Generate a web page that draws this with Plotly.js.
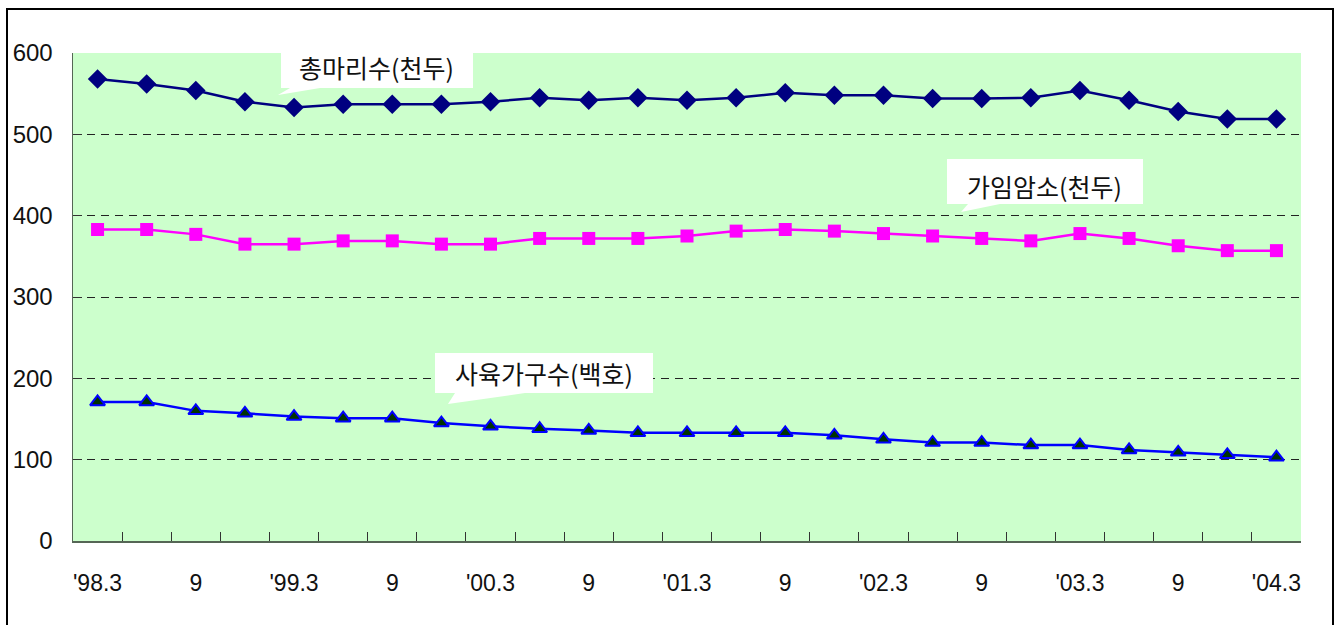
<!DOCTYPE html>
<html>
<head>
<meta charset="utf-8">
<script src="https://cdn.plot.ly/plotly-3.0.1.min.js"></script>
<style>
  html, body { margin: 0; padding: 0; background: #ffffff; }
  #wrap { position: relative; width: 1341px; height: 625px; }
  #chart { width: 1341px; height: 625px; }
  #frame { position: absolute; left: 6px; top: 8px; width: 1328px; height: 640px;
           border: 2px solid #000; pointer-events: none; box-sizing: border-box; }
</style>
</head>
<body>
<div id="wrap">
  <div id="chart"></div>
  <div id="frame"></div>
</div>
<script>
// Quarterly periods, '98.3 .. '04.3
const periods = ["98.3","98.6","98.9","98.12","99.3","99.6","99.9","99.12",
                 "00.3","00.6","00.9","00.12","01.3","01.6","01.9","01.12",
                 "02.3","02.6","02.9","02.12","03.3","03.6","03.9","03.12","04.3"];
const tickLabels = ["'98.3","","9","","'99.3","","9","","'00.3","","9","",
                    "'01.3","","9","","'02.3","","9","","'03.3","","9","","'04.3"];
const yTicks = [0, 100, 200, 300, 400, 500, 600];
const gridTicks = [100, 200, 300, 400, 500];

// 총마리수(천두)
const totalHead = [568, 562, 554, 540, 533, 537, 537, 537, 540, 545, 542, 545, 542,
                   545, 551, 548, 548, 544, 544, 545, 554, 542, 528, 519, 519];
// 가임암소(천두)
const breedingCows = [383, 383, 377, 365, 365, 369, 369, 365, 365, 372, 372, 372, 375,
                      381, 383, 381, 378, 375, 372, 369, 378, 372, 363, 357, 357];
// 사육가구수(백호)
const farms = [171, 171, 160, 157, 153, 151, 151, 145, 141, 138, 136, 133, 133,
               133, 133, 130, 125, 121, 121, 118, 118, 112, 109, 106, 103];

const labelTotal = "총마리수(천두)";
const labelCows = "가임암소(천두)";
const labelFarms = "사육가구수(백호)";

// layout geometry (pixels) -> paper coords
const L = 73, R = 40, T = 53, B = 84, W = 1341, H = 625;
const PW = W - L - R, PH = H - T - B;
const px = x => (x - L) / PW;
const py = y => (H - B - y) / PH;

const traces = [
  { x: periods, y: totalHead, type: "scatter", mode: "lines+markers", name: labelTotal,
    line: { color: "#000080", width: 2.5 },
    marker: { symbol: "diamond", size: 15, color: "#000080" } },
  { x: periods, y: breedingCows, type: "scatter", mode: "lines+markers", name: labelCows,
    line: { color: "#FF00FF", width: 2.5 },
    marker: { symbol: "square", size: 13, color: "#FF00FF" } },
  { x: periods, y: farms, type: "scatter", mode: "lines+markers", name: labelFarms,
    line: { color: "#0000FF", width: 2.5 },
    marker: { symbol: "triangle-up", size: 13, color: "#003300",
              line: { color: "#0000FF", width: 2 } } }
];

function callout(x0, y0, x1, y1, tipX, tipY, b0, b1) {
  return [
    { type: "path", xref: "paper", yref: "paper", layer: "above",
      path: `M ${px(b0)},${py(y1)} L ${px(tipX)},${py(tipY)} L ${px(b1)},${py(y1)} Z`,
      fillcolor: "#ffffff", line: { width: 0 } },
    { type: "rect", xref: "paper", yref: "paper", layer: "above",
      x0: px(x0), x1: px(x1), y0: py(y1), y1: py(y0),
      fillcolor: "#ffffff", line: { width: 0 } }
  ];
}

const shapes = [].concat(
  callout(281, 45, 473, 88, 278, 95, 290, 320),
  callout(947, 159, 1143, 204, 961, 212, 968, 1000),
  callout(435, 353, 653, 393, 448, 404, 455, 525)
);

const annFont = { family: "'Noto Sans CJK KR', sans-serif", size: 25, color: "#111" };
const annotations = [
  { text: labelTotal, xref: "paper", yref: "paper", x: px(376), y: py(67),
    showarrow: false, font: annFont, xanchor: "center", yanchor: "middle" },
  { text: labelCows, xref: "paper", yref: "paper", x: px(1044), y: py(186),
    showarrow: false, font: annFont, xanchor: "center", yanchor: "middle" },
  { text: labelFarms, xref: "paper", yref: "paper", x: px(544), y: py(373),
    showarrow: false, font: annFont, xanchor: "center", yanchor: "middle" }
];

const xTickFont = { family: "'Liberation Sans', Arial, sans-serif", size: 23, color: "#111" };
const yTickFont = { family: "'Liberation Sans Narrow', 'Liberation Sans', Arial, sans-serif", size: 24, color: "#111" };

const layout = {
  width: W, height: H,
  margin: { l: L, r: R, t: T, b: B, pad: 0 },
  paper_bgcolor: "#ffffff",
  plot_bgcolor: "#CCFFCC",
  showlegend: false,
  xaxis: {
    type: "category",
    categoryorder: "array", categoryarray: periods,
    range: [-0.5, periods.length - 0.5],
    tickmode: "array", tickvals: periods, ticktext: tickLabels,
    tickson: "boundaries",
    ticks: "inside", ticklen: 9, tickwidth: 1, tickcolor: "#333",
    showline: true, linecolor: "#556655", linewidth: 1.5,
    showgrid: false, zeroline: false,
    tickfont: xTickFont, ticklabelstandoff: 21, tickangle: 0
  },
  yaxis: {
    range: [0, 600],
    tickmode: "array", tickvals: yTicks,
    ticks: "inside", ticklen: 9, tickwidth: 1, tickcolor: "#333",
    showline: true, linecolor: "#556655", linewidth: 1.5,
    showgrid: false, zeroline: false,
    tickfont: yTickFont, ticklabelstandoff: 14,
    minor: { tickmode: "array", tickvals: gridTicks, showgrid: true,
             gridcolor: "#222", gridwidth: 1, griddash: "8px,6px", ticks: "" }
  },
  shapes: shapes,
  annotations: annotations
};

Plotly.newPlot("chart", traces, layout, { displayModeBar: false, staticPlot: true });
</script>
</body>
</html>
